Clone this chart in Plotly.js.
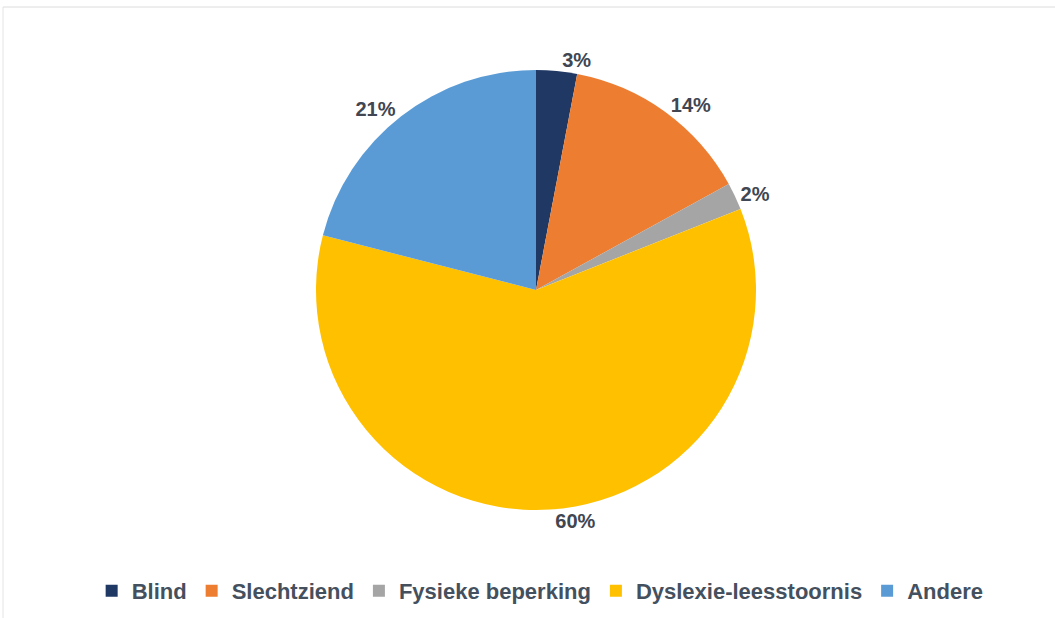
<!DOCTYPE html>
<html><head><meta charset="utf-8">
<script src="https://cdn.plot.ly/plotly-3.0.1.min.js"></script>
<style>html,body{margin:0;padding:0;background:#fff;}#chart{width:1055px;height:618px;}</style>
</head><body><div id="chart"></div>
<script>
const categories = ["Blind", "Slechtziend", "Fysieke beperking", "Dyslexie-leesstoornis", "Andere"];
const values = [3, 14, 2, 60, 21];
const colors = ["#1f3864", "#ed7d31", "#a5a5a5", "#ffc000", "#5b9bd5"];

const W = 1055, H = 618;
const trace = {
  type: "pie",
  labels: categories,
  values: values,
  sort: false,
  direction: "clockwise",
  rotation: 0,
  marker: {colors: colors, line: {width: 0}},
  texttemplate: "%{value}%",
  textposition: "outside",
  outsidetextfont: {family: "Liberation Sans, Arial, sans-serif", size: 20, color: "#404652", weight: "bold"},
  hoverinfo: "label+percent",
  domain: {x: [316 / W, 756 / W], y: [1 - 510 / H, 1 - 70 / H]},
  automargin: false
};
const layout = {
  width: W, height: H,
  margin: {l: 0, r: 0, t: 0, b: 0},
  paper_bgcolor: "#ffffff",
  showlegend: true,
  legend: {
    orientation: "h", x: 0.512, xanchor: "center", y: 1 - 591 / H, yanchor: "middle",
    font: {family: "Liberation Sans, Arial, sans-serif", size: 22, color: "#44505e", weight: "bold"},
    itemwidth: 30
  },
  shapes: [
    {type: "line", xref: "paper", yref: "paper", x0: 3 / W, x1: 1.01, y0: 1 - 7 / H, y1: 1 - 7 / H, line: {color: "#dcdcdc", width: 1}},
    {type: "line", xref: "paper", yref: "paper", x0: 3 / W, x1: 3 / W, y0: 1 - 7 / H, y1: -0.01, line: {color: "#e4e4e4", width: 1}}
  ]
};
Plotly.newPlot("chart", [trace], layout, {displayModeBar: false, staticPlot: true});
</script></body></html>
